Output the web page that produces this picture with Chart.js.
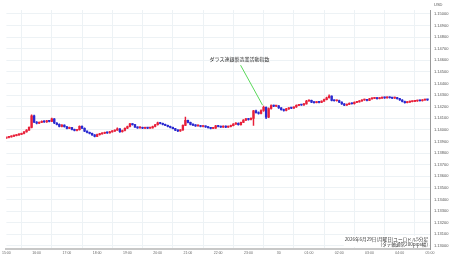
<!DOCTYPE html>
<html>
<head>
<meta charset="utf-8">
<script src="https://cdn.jsdelivr.net/npm/chart.js@4"></script>
<style>
  body { margin: 0; background: #fff; }
  #container { width: 450px; height: 258px; }
</style>
</head>
<body>
<div id="container">
  <canvas id="canvas"></canvas>
</div>

<script>
// hourly tick labels (15:00 on 6/29 to 05:00 on 6/30), 5-minute candles between them
var hourLabels = ['15:00','16:00','17:00','18:00','19:00','20:00','21:00','22:00','23:00','30','01:00','02:00','03:00','04:00','05:00'];

var yTicks = [1.130,1.131,1.132,1.133,1.134,1.135,1.136,1.137,1.138,1.139,1.140,
              1.141,1.142,1.143,1.144,1.145,1.146,1.147,1.148,1.149,1.150];

var firstOpen = 1.13930;

// closes, one row per hour (12 x 5min)
var closes = [
  1.13936,1.13940,1.13947,1.13951,1.13957,1.13962,1.13970,1.13983,1.13998,1.14022,1.14122,1.14068,
  1.14058,1.14066,1.14074,1.14070,1.14078,1.14074,1.14096,1.14060,1.14048,1.14030,1.14042,1.14028,
  1.14014,1.14020,1.14005,1.13995,1.14002,1.14032,1.14015,1.13990,1.13978,1.13970,1.13958,1.13945,
  1.13960,1.13966,1.13972,1.13978,1.13975,1.13984,1.13990,1.13998,1.14010,1.13985,1.13995,1.14015,
  1.14030,1.14052,1.14046,1.14025,1.14018,1.14022,1.14015,1.14020,1.14016,1.14018,1.14030,1.14045,
  1.14062,1.14056,1.14048,1.14040,1.14030,1.14022,1.14012,1.13998,1.13992,1.14000,1.14040,1.14082,
  1.14065,1.14048,1.14042,1.14035,1.14038,1.14030,1.14033,1.14026,1.14020,1.14014,1.14016,1.14036,
  1.14030,1.14025,1.14032,1.14024,1.14030,1.14038,1.14050,1.14058,1.14045,1.14065,1.14085,1.14096,
  1.14090,1.14100,1.14165,1.14150,1.14142,1.14168,1.14196,1.14110,1.14185,1.14210,1.14205,1.14208,
  1.14190,1.14175,1.14168,1.14182,1.14190,1.14188,1.14198,1.14212,1.14218,1.14215,1.14225,1.14250,
  1.14255,1.14240,1.14236,1.14240,1.14238,1.14248,1.14262,1.14278,1.14292,1.14255,1.14252,1.14254,
  1.14240,1.14225,1.14214,1.14220,1.14230,1.14226,1.14238,1.14242,1.14250,1.14258,1.14262,1.14255,
  1.14268,1.14272,1.14276,1.14270,1.14275,1.14280,1.14276,1.14282,1.14278,1.14274,1.14279,1.14270,
  1.14258,1.14245,1.14236,1.14240,1.14244,1.14246,1.14250,1.14254,1.14252,1.14258,1.14262,1.14259
];

var highs = [
  1.13940,1.13945,1.13950,1.13956,1.13960,1.13967,1.13974,1.13986,1.14003,1.14026,1.14130,1.14128,
  1.14072,1.14071,1.14079,1.14078,1.14083,1.14082,1.14102,1.14099,1.14064,1.14052,1.14046,1.14045,
  1.14031,1.14024,1.14023,1.14008,1.14006,1.14036,1.14035,1.14018,1.13993,1.13982,1.13973,1.13961,
  1.13964,1.13970,1.13976,1.13982,1.13981,1.13988,1.13995,1.14002,1.14018,1.14013,1.13999,1.14019,
  1.14034,1.14058,1.14056,1.14049,1.14028,1.14026,1.14025,1.14024,1.14023,1.14022,1.14034,1.14049,
  1.14067,1.14065,1.14059,1.14051,1.14043,1.14033,1.14025,1.14015,1.14001,1.14004,1.14045,1.14112,
  1.14086,1.14068,1.14052,1.14046,1.14042,1.14041,1.14037,1.14036,1.14029,1.14023,1.14020,1.14040,
  1.14039,1.14033,1.14036,1.14035,1.14034,1.14042,1.14054,1.14063,1.14061,1.14069,1.14090,1.14101,
  1.14100,1.14105,1.14170,1.14172,1.14156,1.14174,1.14205,1.14200,1.14190,1.14216,1.14214,1.14213,
  1.14211,1.14193,1.14179,1.14186,1.14194,1.14194,1.14202,1.14216,1.14222,1.14221,1.14229,1.14255,
  1.14260,1.14258,1.14243,1.14244,1.14243,1.14252,1.14266,1.14283,1.14302,1.14295,1.14259,1.14258,
  1.14257,1.14243,1.14228,1.14224,1.14234,1.14233,1.14242,1.14246,1.14254,1.14262,1.14266,1.14265,
  1.14272,1.14276,1.14280,1.14279,1.14279,1.14284,1.14283,1.14286,1.14285,1.14281,1.14283,1.14282,
  1.14273,1.14261,1.14248,1.14244,1.14248,1.14250,1.14254,1.14258,1.14257,1.14262,1.14266,1.14265
];

var lows = [
  1.13926,1.13932,1.13937,1.13943,1.13948,1.13953,1.13959,1.13966,1.13980,1.13995,1.14018,1.14062,
  1.14052,1.14054,1.14062,1.14065,1.14066,1.14070,1.14071,1.14055,1.14044,1.14026,1.14027,1.14024,
  1.14010,1.14011,1.14000,1.13991,1.13992,1.13999,1.14011,1.13986,1.13974,1.13966,1.13953,1.13940,
  1.13942,1.13956,1.13963,1.13968,1.13971,1.13972,1.13981,1.13987,1.13995,1.13978,1.13981,1.13992,
  1.14012,1.14027,1.14042,1.14021,1.14014,1.14015,1.14011,1.14012,1.14012,1.14013,1.14015,1.14027,
  1.14042,1.14052,1.14044,1.14036,1.14026,1.14018,1.14008,1.13994,1.13986,1.13988,1.13997,1.14036,
  1.14060,1.14044,1.14038,1.14031,1.14032,1.14026,1.14027,1.14022,1.14016,1.14010,1.14011,1.14013,
  1.14026,1.14021,1.14022,1.14020,1.14021,1.14027,1.14035,1.14047,1.14041,1.14042,1.14062,1.14081,
  1.14085,1.14086,1.14040,1.14145,1.14137,1.14138,1.14160,1.14098,1.14105,1.14180,1.14200,1.14201,
  1.14186,1.14171,1.14163,1.14165,1.14178,1.14184,1.14185,1.14195,1.14209,1.14211,1.14212,1.14222,
  1.14246,1.14236,1.14232,1.14233,1.14234,1.14235,1.14245,1.14259,1.14275,1.14250,1.14248,1.14249,
  1.14236,1.14221,1.14210,1.14211,1.14217,1.14222,1.14223,1.14235,1.14239,1.14247,1.14255,1.14251,
  1.14252,1.14265,1.14269,1.14266,1.14267,1.14272,1.14272,1.14273,1.14274,1.14270,1.14271,1.14266,
  1.14254,1.14241,1.14231,1.14233,1.14237,1.14241,1.14243,1.14247,1.14248,1.14249,1.14255,1.14255
];

var eventIndex = 102;  // 23:30 candle
var eventText = 'ダラス連銀製造業活動指数';
var titleLines = ['2026年6月29日(月曜日)ユーロドル5分足', '(タテ軸通常200pips幅)'];

var upColor = '#e8203a';
var downColor = '#2a2ad0';
var gridColor = '#edf2f5';

// opens = previous close
var opens = closes.map((c, i) => i == 0 ? firstOpen : closes[i-1]);

// category labels: an hour label every 12 slots
var labels = [];
hourLabels.forEach((h, i) => {
  labels.push(h);
  if (i < hourLabels.length - 1) {
    for (var k = 0; k < 11; k++) labels.push('');
  }
});

var bodies = closes.map((c, i) => [opens[i], c]);
var wicks = closes.map((c, i) => [lows[i], highs[i]]);
var colors = closes.map((c, i) => c >= opens[i] ? upColor : downColor);

var extras = {
  id: 'extras',
  afterDatasetsDraw(chart) {
    var ctx = chart.ctx;
    var xs = chart.scales.x, ys = chart.scales.y;
    var area = chart.chartArea;
    ctx.save();

    // event marker
    var ex = xs.getPixelForValue(eventIndex) - 1;
    var ey = ys.getPixelForValue(highs[eventIndex]) - 1;
    ctx.strokeStyle = '#5ad85a';
    ctx.lineWidth = 1;
    ctx.beginPath();
    ctx.moveTo(ex - 22, ey - 40);
    ctx.lineTo(ex, ey);
    ctx.stroke();
    ctx.fillStyle = '#333';
    ctx.font = '5px "Noto Sans CJK JP"';
    ctx.textAlign = 'center';
    ctx.textBaseline = 'middle';
    ctx.fillText(eventText, ex - 23, ey - 46);

    // bottom-right caption
    ctx.font = '4.6px "Noto Sans CJK JP"';
    ctx.textAlign = 'right';
    var w = Math.max(...titleLines.map(t => ctx.measureText(t).width));
    ctx.fillStyle = '#fff';
    ctx.fillRect(area.right - 3 - w, 236, w + 2, 11);
    ctx.fillStyle = '#333';
    ctx.fillText(titleLines[0], area.right - 2, 239.7);
    ctx.fillText(titleLines[1], area.right - 2, 244.7);

    // currency label
    ctx.fillStyle = '#555';
    ctx.font = '4px "Liberation Sans"';
    ctx.textAlign = 'left';
    ctx.fillText('USD', area.right + 4, 5);
    ctx.restore();
  }
};

var ctx = document.getElementById('canvas');
new Chart(ctx, {
  type: 'bar',
  data: {
    labels: labels,
    datasets: [
      { data: wicks, backgroundColor: colors, barThickness: 0.8, grouped: false, borderWidth: 0 },
      { data: bodies, backgroundColor: colors, barThickness: 1.7, grouped: false, borderWidth: 0, minBarLength: 1 }
    ]
  },
  options: {
    responsive: true,
    maintainAspectRatio: false,
    animation: false,
    devicePixelRatio: 1,
    layout: { padding: { top: 10, left: 2, right: 0, bottom: 0 } },
    plugins: { legend: { display: false }, tooltip: { enabled: false } },
    scales: {
      x: {
        offset: false,
        afterBuildTicks: (scale) => { scale.ticks = scale.ticks.filter(t => t.value % 12 == 0); },
        afterFit: (scale) => { scale.height = 9; },
        grid: { color: gridColor, drawTicks: false },
        border: { color: '#c8c8c8', width: 2 },
        ticks: {
          autoSkip: false, maxRotation: 0, padding: 2,
          color: '#666', font: { size: 3.5, family: 'Liberation Sans' },
          callback: function(v) { return this.getLabelForValue(v); }
        }
      },
      y: {
        position: 'right',
        min: 1.12974,
        max: 1.15034,
        afterBuildTicks: (scale) => { scale.ticks = yTicks.map(v => ({ value: v })); },
        afterFit: (scale) => { scale.width = 20; },
        grid: { color: gridColor, drawTicks: false },
        border: { color: '#999', width: 1 },
        ticks: {
          padding: 4, color: '#555',
          font: { size: 4, family: 'Liberation Sans' },
          callback: (v) => v.toFixed(5)
        }
      }
    }
  },
  plugins: [extras]
});
</script>
</body>
</html>
